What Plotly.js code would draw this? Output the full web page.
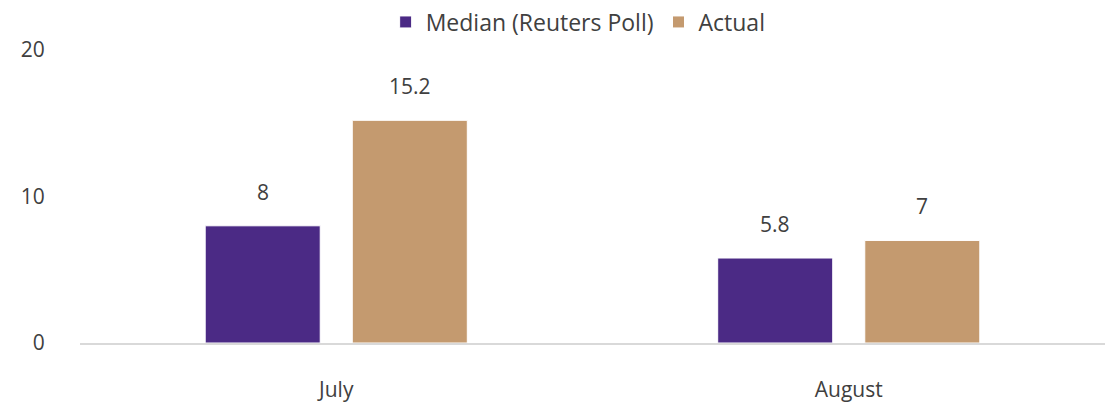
<!DOCTYPE html>
<html>
<head>
<meta charset="utf-8">
<script src="https://cdn.plot.ly/plotly-3.0.1.min.js"></script>
<style>html,body{margin:0;padding:0;background:#fff;}#chart{width:1109px;height:403px;}</style>
</head>
<body>
<div id="chart"></div>
<script>
const categories = ["July", "August"];
const seriesNames = ["Median (Reuters Poll)", "Actual"];
const medianValues = [8, 5.8];
const actualValues = [15.2, 7];
const yTicks = [0, 10, 20];
const colors = ["#4B2A85", "#C49A6F"];

const font = {family: "Open Sans, Noto Sans, sans-serif", size: 21, color: "#404040"};
const legendFont = {family: "Open Sans, Noto Sans, sans-serif", size: 23, color: "#404040"};

const traces = [medianValues, actualValues].map((vals, i) => ({
  type: "bar",
  name: seriesNames[i],
  x: categories,
  y: vals,
  marker: {color: colors[i], line: {color: "#ffffff", width: 1}},
  hoverinfo: "skip"
}));

// data labels above bars
const offsets = [-0.1434, 0.1434];
const annotations = [];
[medianValues, actualValues].forEach((vals, i) => {
  vals.forEach((v, j) => {
    annotations.push({
      x: j + offsets[i], y: v, xref: "x", yref: "y",
      text: String(v), showarrow: false, yanchor: "bottom", yshift: 18,
      font: font
    });
  });
});

const layout = {
  width: 1109, height: 403,
  margin: {l: 80, r: 4, t: 50, b: 60, autoexpand: false},
  paper_bgcolor: "#fff", plot_bgcolor: "#fff",
  font: font,
  barmode: "group",
  bargap: 0.426,
  bargroupgap: 0.218,
  showlegend: true,
  legend: {orientation: "h", x: 0.486, xanchor: "center", yanchor: "middle",
           font: legendFont, traceorder: "normal", itemwidth: 30, yref: "paper"},
  xaxis: {type: "category", showgrid: false, zeroline: false, showline: true, linecolor: "#d9d9d9", linewidth: 2,
          ticks: "outside", ticklen: 27, tickcolor: "rgba(0,0,0,0)", tickfont: font},
  yaxis: {range: [0, 20], tickvals: yTicks, showgrid: false, zeroline: false, showline: false,
          ticks: "outside", ticklen: 30, tickcolor: "rgba(0,0,0,0)", tickfont: font},
  annotations: annotations
};
layout.legend.y = 1 + (50 - 22) / 293;

Plotly.newPlot("chart", traces, layout, {displayModeBar: false, staticPlot: true});
</script>
</body>
</html>
